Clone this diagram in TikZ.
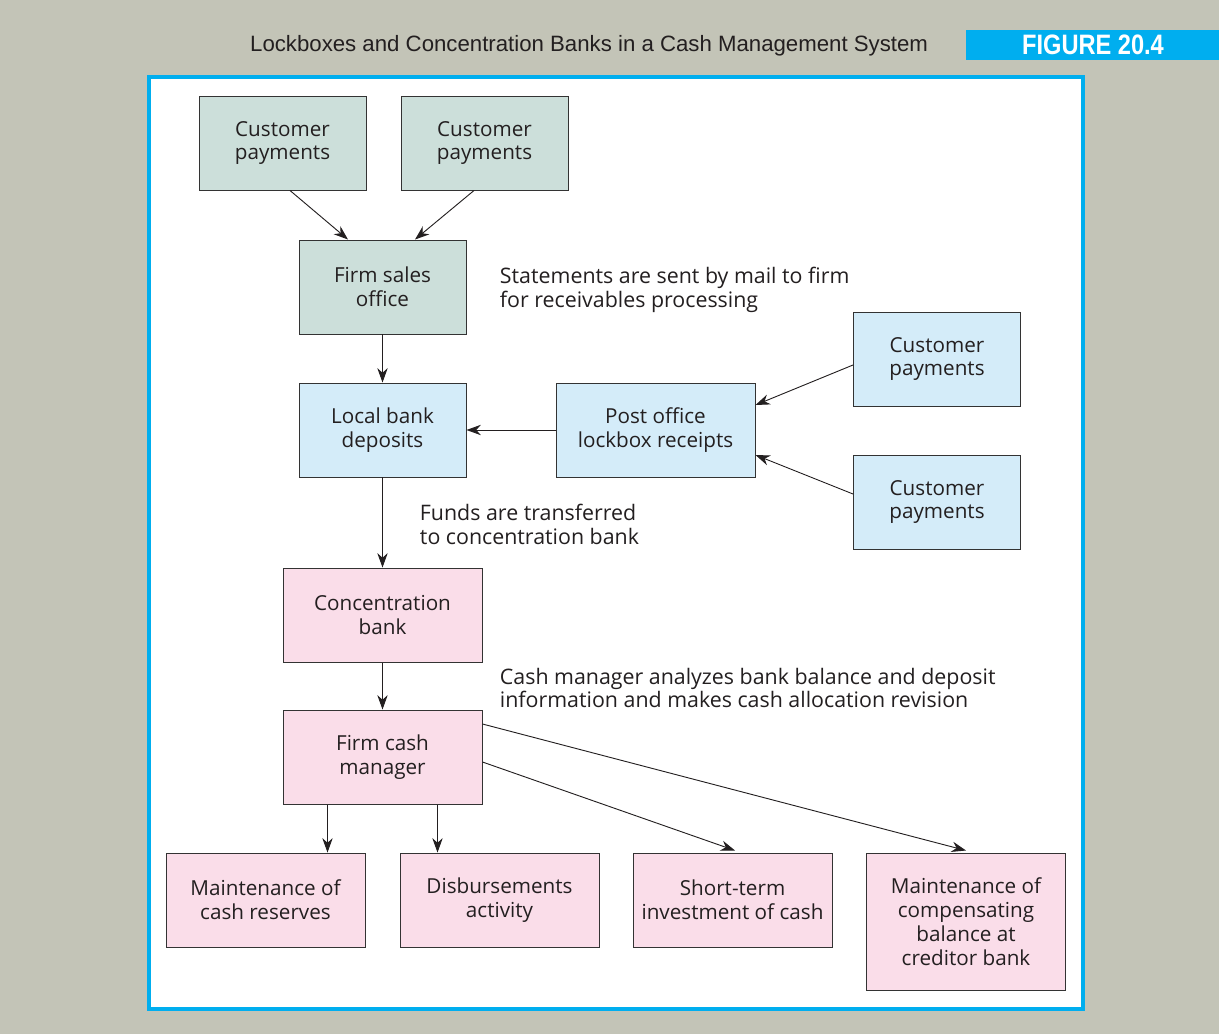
\documentclass[tikz,border=0pt]{standalone}
\usepackage{fontspec}
\setmainfont{Open Sans}
\newfontfamily\titlefont{Liberation Sans}
\usepackage{xcolor}
\usetikzlibrary{arrows.meta, positioning}

\definecolor{pagegray}{HTML}{C3C4B7}
\definecolor{figcyan}{HTML}{00AEEF}
\definecolor{sagefill}{HTML}{CCDFDA}
\definecolor{bluefill}{HTML}{D4ECF9}
\definecolor{pinkfill}{HTML}{FADDE9}
\definecolor{inkgray}{HTML}{231F20}

\begin{document}
\begin{tikzpicture}[
  x=0.25mm, y=-0.25mm,
  box/.style={draw=black!80, line width=0.7pt, minimum height=23.5mm, align=center,
    font=\fontsize{14.7}{17}\selectfont, text=inkgray, inner sep=1pt},
  narrowbox/.style={box, minimum width=41.75mm},
  widebox/.style={box, minimum width=49.75mm},
  note/.style={anchor=west, align=left, font=\fontsize{15.2}{17}\selectfont, text=inkgray},
  arrow/.style={-{Stealth[length=3.6mm, width=2.6mm]}, line width=0.65pt, inkgray}
]
  % frame
  \fill[pagegray] (0,0) rectangle (1219,1034);
  \useasboundingbox (0,0) rectangle (1219,1034);
  \fill[white, draw=figcyan, line width=0.8mm] (149,77) rectangle (1083,1009);
  \fill[figcyan] (966,30) rectangle (1219,60);
  \node[anchor=east, font=\titlefont\fontsize{15.8}{17}\selectfont, text=inkgray] (title) at (933,46)
    {Lockboxes and Concentration Banks in a Cash Management System};
  \node[font=\titlefont\bfseries\fontsize{20}{22}\selectfont, text=white] (fignum) at (1093,45)
    {\scalebox{0.84}[1]{FIGURE 20.4}};

  % upper boxes
  \node[narrowbox, fill=sagefill] (cpa) at (282.5,143) {Customer\\payments};
  \node[narrowbox, fill=sagefill] (cpb) at (484.5,143) {Customer\\payments};
  \node[narrowbox, fill=sagefill] (sales) at (382.5,287) {Firm sales\\office};
  \node[narrowbox, fill=bluefill] (local) at (382.5,430) {Local bank\\deposits};
  \node[widebox, fill=bluefill] (post) at (655.5,430) {Post office\\lockbox receipts};
  \node[narrowbox, fill=bluefill] (cpc) at (937,359) {Customer\\payments};
  \node[narrowbox, fill=bluefill] (cpd) at (937,502) {Customer\\payments};

  % lower boxes
  \node[widebox, fill=pinkfill] (conc) at (382.5,615) {Concentration\\bank};
  \node[widebox, fill=pinkfill] (mgr) at (382.5,757) {Firm cash\\manager};
  \node[widebox, fill=pinkfill] (reserves) at (265.5,900) {Maintenance of\\cash reserves};
  \node[widebox, fill=pinkfill] (disb) at (499.5,900) {Disbursements\\activity};
  \node[widebox, fill=pinkfill] (invest) at (732.5,900) {Short-term\\investment of cash};
  \node[widebox, fill=pinkfill, minimum height=34.25mm] (comp) at (966,921.5)
    {Maintenance of\\compensating\\balance at\\creditor bank};

  % notes
  \node[note] (mailnote) at (495,290) {Statements are sent by mail to firm\\for receivables processing};
  \node[note] (fundnote) at (415,524) {Funds are transferred\\to concentration bank};
  \node[note] (cashnote) at (495,688) {Cash manager analyzes bank balance and deposit\\information and makes cash allocation revision};

  % connectors
  \draw[arrow] ([shift={(7.5,0)}]cpa.south) -- ([shift={(-34.5,0)}]sales.north);
  \draw[arrow] ([shift={(-10.5,0)}]cpb.south) -- ([shift={(32.5,0)}]sales.north);
  \draw[arrow] (sales) -- (local);
  \draw[arrow] (post.west) -- (local.east);
  \draw[arrow] ([shift={(0,6)}]cpc.west) -- ([shift={(0,-25)}]post.east);
  \draw[arrow] ([shift={(0,-8)}]cpd.west) -- ([shift={(0,25)}]post.east);
  \draw[arrow] (local) -- (conc);
  \draw[arrow] (conc) -- (mgr);
  \draw[arrow] ([shift={(-55,0)}]mgr.south) coordinate (m1) -- (m1 |- reserves.north);
  \draw[arrow] ([shift={(55,0)}]mgr.south) coordinate (m2) -- (m2 |- disb.north);
  \draw[arrow] ([shift={(0,5)}]mgr.east) -- ([shift={(2.5,-2)}]invest.north);
  \draw[arrow] ([shift={(0,-33)}]mgr.east) -- ([shift={(0,-2)}]comp.north);
\end{tikzpicture}
\end{document}
